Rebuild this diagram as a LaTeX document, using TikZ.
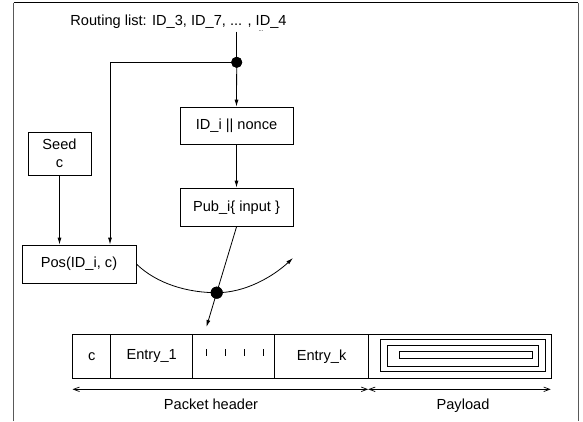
\documentclass[tikz,border=0pt]{standalone}
\usepackage{fontspec}
\setmainfont{Liberation Sans}
\usetikzlibrary{arrows.meta}
\begin{document}
\begin{tikzpicture}[x=1pt,y=-1pt,
  lbl/.style={font=\fontsize{14.6}{18}\selectfont},
  box/.style={lbl,draw,line width=0.8pt,inner sep=0pt,align=center},
  cell/.style={box,minimum height=43.4pt,anchor=north west},
  conn/.style={line width=0.8pt},
  arr/.style={conn,-{Latex[length=7pt,width=4pt]}},
  dim/.style={line width=0.7pt,{Straight Barb[length=6pt,width=4.5pt]}-{Straight Barb[length=6pt,width=4.5pt]}},
  junction/.style={circle,fill=black,inner sep=0pt,minimum size=11pt}]
\useasboundingbox (0,0) rectangle (583,421);

% open frame
\draw[line width=1.1pt,black!65] (13.5,421) -- (13.5,2.7);
\draw[line width=1.1pt,black!65] (578.3,2.7) -- (578.3,421);
\draw[line width=0.9pt] (13.5,2.7) -- (578.3,2.7);

% routing list
\node[lbl,anchor=base,inner sep=0pt] (routing) at (178.5,25) {Routing list: ID\_3, ID\_7, ... , ID\_4};
\node[font=\fontsize{6}{6}\selectfont,inner sep=0pt,anchor=base] (more) at (261,31.5) {...};
\coordinate (src) at (236.7,31.5);

% processing boxes
\node[box,minimum width=113pt,minimum height=37pt] (idn) at (236.5,125.5) {ID\_i || nonce};
\node[box,minimum width=113pt,minimum height=38.5pt] (pub) at (236.5,207.3) {Pub\_i\{ input \}};
\node[box,minimum width=63pt,minimum height=43pt] (seed) at (59.5,153.5) {Seed\\c};
\node[box,minimum width=114pt,minimum height=38pt] (pos) at (79,264) {Pos(ID\_i, c)};

% junctions
\node[junction] (j1) at (236.7,62.3) {};
\node[junction,minimum size=12pt] (j2) at (216.7,292.7) {};
\coordinate (turn) at (293,258);
\coordinate (drop) at (206.4,327);

% connectors
\draw[conn] (src) -- (j1.center);
\draw[arr] (j1.center) -- (idn.north);
\draw[arr] (j1.center) -| ([xshift=31pt]pos.north);
\draw[arr] (seed.south) -- (seed.south |- pos.north);
\draw[arr] (idn.south) -- (pub.north);
\draw[arr] (pub.south) -- (j2.center) -- (drop);
\draw[arr] (pos.east) .. controls (157,284) and (188,292.7) .. (j2.center)
  .. controls (245,292.7) and (272.5,277) .. (turn);
\node[junction] at (j1) {};
\node[junction,minimum size=12pt] at (j2) {};

% packet layout
\node[cell,minimum width=38pt] (cc) at (72.3,334.3) {c};
\node[cell,minimum width=82pt] (e1) at (110.3,334.3) {Entry\_1};
\node[cell,minimum width=81.7pt] (gap) at (192.3,334.3) {};
\node[cell,minimum width=94.3pt] (ek) at (274,334.3) {Entry\_k};
\node[cell,minimum width=182.4pt] (pay) at (368.3,334.3) {};
\foreach \x in {206.7,225.7,244.3,263.3}
  \draw[line width=1.1pt] (\x,349.3) -- (\x,355.7);

% payload nested frames
\draw[line width=0.8pt] (380,339.3) rectangle (545,371.7);
\draw[line width=0.8pt] (387.3,345) rectangle (538.3,366);
\draw[line width=0.8pt] (399.3,351.7) rectangle (532.3,358.3);

% extents
\coordinate (hl) at (72.5,389.3);
\coordinate (hm) at (368.2,389.3);
\coordinate (pr) at (550.7,389.3);
\draw[dim] (hl) -- (hm);
\draw[dim] (hm) -- (pr);
\node[lbl,anchor=base,inner sep=0pt] (hdr) at (211,409.3) {Packet header};
\node[lbl,anchor=base,inner sep=0pt] (pld) at (463,409.3) {Payload};
\end{tikzpicture}
\end{document}
